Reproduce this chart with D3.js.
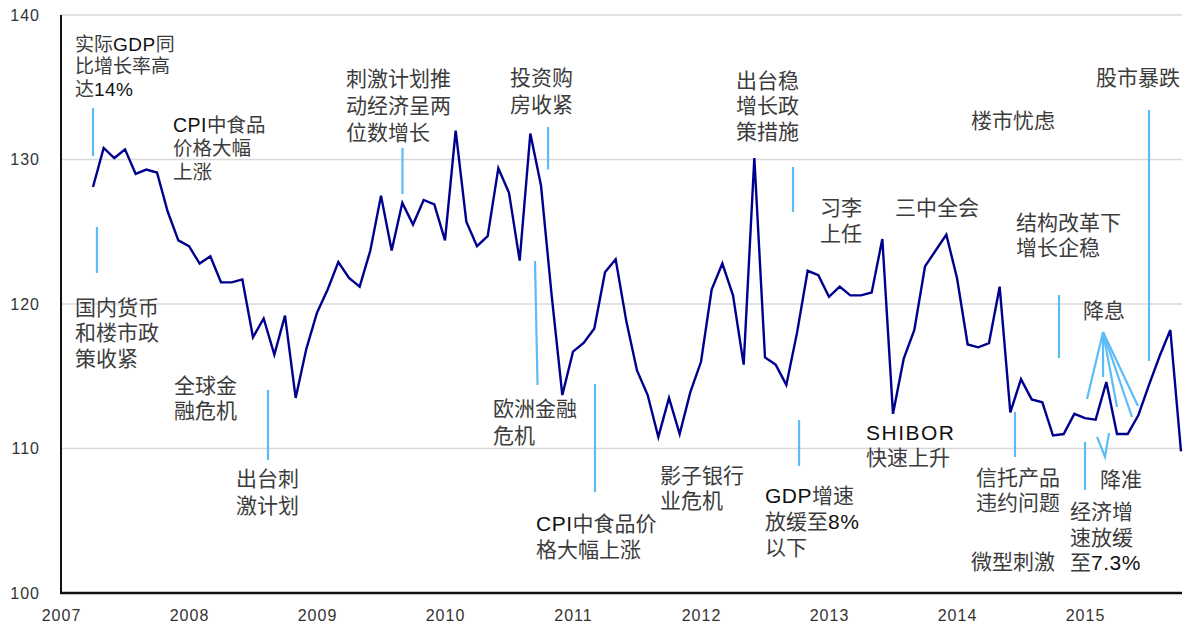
<!DOCTYPE html>
<html><head><meta charset="utf-8">
<script src="https://cdn.jsdelivr.net/npm/d3@7/dist/d3.min.js"></script>
<style>body{margin:0;background:#fff}svg{display:block}</style>
</head><body>
<svg id="chart" width="1185" height="628"></svg>
<script>
// ---- data: monthly index, first value = April 2007 ----
const firstYear = 2007;
const firstMonth = 3; // 0-based: April
const values2007 = [128.1, 130.8, 130.1, 130.7, 129.0, 129.3, 129.1, 126.4, 124.4];
const values2008 = [124.0, 122.8, 123.3, 121.5, 121.5, 121.7, 117.7, 119.0, 116.5, 119.2, 113.5, 116.9];
const values2009 = [119.4, 121.0, 122.9, 121.8, 121.2, 123.7, 127.5, 123.7, 127.0, 125.5, 127.2, 126.9];
const values2010 = [124.4, 132.0, 125.7, 124.0, 124.7, 129.4, 127.7, 123.0, 131.8, 128.2, 120.6, 113.7];
const values2011 = [116.7, 117.3, 118.3, 122.2, 123.1, 118.8, 115.4, 113.7, 110.8, 113.5, 111.0, 113.9];
const values2012 = [116.0, 121.0, 122.8, 120.6, 115.8, 130.1, 116.3, 115.8, 114.4, 118.0, 122.3, 122.0];
const values2013 = [120.5, 121.2, 120.6, 120.6, 120.8, 124.5, 112.4, 116.2, 118.2, 122.6, 123.7, 124.8];
const values2014 = [121.8, 117.2, 117.0, 117.3, 121.2, 112.5, 114.8, 113.4, 113.2, 110.9, 111.0, 112.4];
const values2015 = [112.1, 112.0, 114.6, 111.0, 111.0, 112.3, 114.4, 116.4, 118.2, 109.8];

const yTicks = [100, 110, 120, 130, 140];
const xTicks = [2007, 2008, 2009, 2010, 2011, 2012, 2013, 2014, 2015];

// annotations in data coordinates [year, value]
const annotations = [
  {lines:["实际GDP同","比增长率高","达14%"], at:[2007.109,137.99], fs:19, lh:22.5, leads:[[[2007.25,133.56],[2007.25,130.24]]]},
  {lines:["国内货币","和楼市政","策收紧"], at:[2007.109,119.79], leads:[[[2007.281,125.33],[2007.281,122.15]]]},
  {lines:["CPI中食品","价格大幅","上涨"], at:[2007.875,132.39], fs:19.5, lh:23.5},
  {lines:["刺激计划推","动经济呈两","位数增长"], at:[2009.227,135.64], lh:27, leads:[[[2009.668,130.80],[2009.668,127.61]]]},
  {lines:["投资购","房收紧"], at:[2010.508,135.71], lh:27, leads:[[[2010.805,132.25],[2010.805,129.31]]]},
  {lines:["出台稳","增长政","策措施"], at:[2012.273,135.50], leads:[[[2012.719,129.48],[2012.719,126.37]]]},
  {lines:["楼市忧虑"], at:[2014.109,132.73]},
  {lines:["股市暴跌"], at:[2015.086,135.71], leads:[[[2015.5,133.43],[2015.5,116.06]]]},
  {lines:["习李","上任"], at:[2012.93,126.71], lh:26.5},
  {lines:["三中全会"], at:[2013.516,126.71]},
  {lines:["结构改革下","增长企稳"], at:[2014.461,125.67], leads:[[[2014.797,120.62],[2014.797,116.26]]]},
  {lines:["降息"], at:[2014.984,119.52], leads:[
    [[2015.141,118.06],[2015.016,113.43]],
    [[2015.141,118.06],[2015.141,114.95]],
    [[2015.141,118.06],[2015.25,112.87]],
    [[2015.141,118.06],[2015.367,112.18]],
    [[2015.141,118.06],[2015.414,112.94]]]},
  {lines:["降准"], at:[2015.117,107.89], leads:[[[2015.094,110.80],[2015.156,109.41],[2015.188,111.07]]]},
  {lines:["经济增","速放缓","至7.3%"], at:[2014.883,105.61], leads:[[[2015.0,110.45],[2015.0,107.13]]]},
  {lines:["信托产品","违约问题"], at:[2014.148,108.03], leads:[[[2014.453,112.53],[2014.453,109.41]]]},
  {lines:["微型刺激"], at:[2014.109,102.15]},
  {lines:["SHIBOR","快速上升"], at:[2013.289,111.14]},
  {lines:["GDP增速","放缓至8%","以下"], at:[2012.5,106.78], lh:26, leads:[[[2012.766,111.97],[2012.766,108.79]]]},
  {lines:["影子银行","业危机"], at:[2011.68,108.17]},
  {lines:["CPI中食品价","格大幅上涨"], at:[2010.711,104.78], leads:[[[2011.172,114.46],[2011.172,106.99]]]},
  {lines:["欧洲金融","危机"], at:[2010.375,112.80], lh:27, leads:[[[2010.703,122.98],[2010.723,114.39]]]},
  {lines:["全球金","融危机"], at:[2007.883,114.39]},
  {lines:["出台刺","激计划"], at:[2008.367,107.96], lh:27, leads:[[[2008.617,114.05],[2008.617,109.20]]]}
];

// ---- build series ----
const allValues = [].concat(values2007, values2008, values2009, values2010, values2011,
                            values2012, values2013, values2014, values2015);
const series = allValues.map((v, i) => ({t: firstYear + (firstMonth + i) / 12, v}));

const svg = d3.select("#chart");
const x = d3.scaleLinear().domain([2007, 2016]).range([61, 1213]);
const y = d3.scaleLinear().domain([100, 140]).range([593, 15]);
const right = x(series[series.length - 1].t) + 1;

// gridlines
svg.append("g").selectAll("line").data(yTicks.filter(d => d > 100)).join("line")
  .attr("x1", x(2007)).attr("x2", right)
  .attr("y1", d => y(d)).attr("y2", d => y(d))
  .attr("stroke", "#d9d9d9").attr("stroke-width", 1.6);

// y axis
const yAxis = svg.append("g").attr("transform", `translate(${x(2007)},0)`)
  .call(d3.axisLeft(y).tickValues(yTicks).tickSize(0).tickPadding(21).tickFormat(d3.format("d")));
yAxis.select(".domain").remove();
yAxis.selectAll("text").attr("font-family", "Liberation Sans, Arial, sans-serif")
  .attr("font-size", 16).attr("fill", "#333").attr("letter-spacing", "1px");

// x axis
const xAxis = svg.append("g").attr("transform", `translate(0,${y(100)})`)
  .call(d3.axisBottom(x).tickValues(xTicks).tickSize(0).tickPadding(17).tickFormat(d3.format("d")));
xAxis.select(".domain").remove();
xAxis.selectAll("text").attr("font-family", "Liberation Sans, Arial, sans-serif")
  .attr("font-size", 16).attr("fill", "#333").attr("letter-spacing", "1px");

// axis lines
svg.append("line").attr("x1", x(2007)).attr("x2", x(2007)).attr("y1", y(140)).attr("y2", y(100))
  .attr("stroke", "#111").attr("stroke-width", 2);
svg.append("line").attr("x1", x(2007) - 1).attr("x2", right).attr("y1", y(100)).attr("y2", y(100))
  .attr("stroke", "#111").attr("stroke-width", 2.5);

// leader lines
const leadLine = d3.line().x(d => x(d[0])).y(d => y(d[1]));
annotations.forEach(a => (a.leads || []).forEach(l => {
  svg.append("path").attr("d", leadLine(l)).attr("fill", "none")
    .attr("stroke", "#5cbcf7").attr("stroke-width", 2.2);
}));

// series line
svg.append("path").datum(series)
  .attr("d", d3.line().x(d => x(d.t)).y(d => y(d.v)))
  .attr("fill", "none").attr("stroke", "#00008f").attr("stroke-width", 2.4)
  .attr("stroke-linejoin", "miter");

// annotation text
annotations.forEach(a => {
  const fs = a.fs || 21, lh = a.lh || 25.5;
  const g = svg.append("g");
  a.lines.forEach((ln, i) => {
    const t = g.append("text").attr("x", x(a.at[0])).attr("y", y(a.at[1]) + i * lh)
      .attr("dy", "0.36em").attr("font-size", fs);
    ln.split(/([A-Za-z0-9.%]+)/).filter(s => s.length).forEach(s => {
      const latin = /^[A-Za-z0-9.%]+$/.test(s);
      t.append("tspan").text(s)
        .attr("font-family", latin ? "Liberation Sans, Arial, sans-serif" : "Noto Sans CJK SC, sans-serif")
        .attr("fill", latin ? "#111" : "#3c3c3c")
        .attr("letter-spacing", latin ? (s === "SHIBOR" ? "1.5px" : "0.5px") : "0px");
    });
  });
});
</script>
</body></html>
